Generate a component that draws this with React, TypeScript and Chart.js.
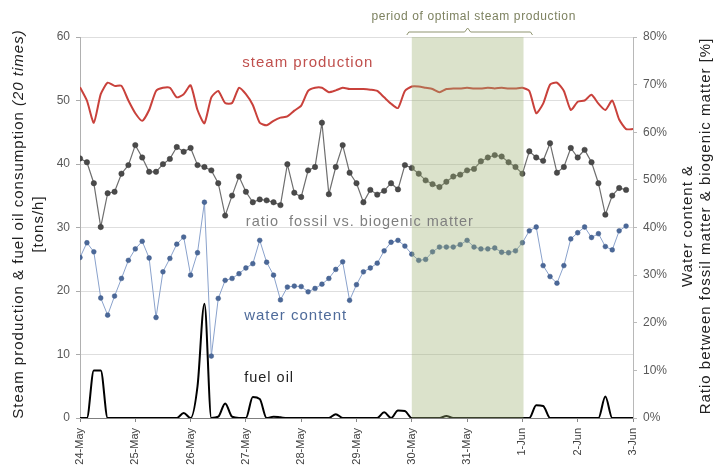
import React, { useEffect, useRef } from "react";
import { Chart, registerables } from "chart.js";
Chart.register(...registerables);

// x axis: days since 24-May, one sample every 3 hours
const dayLabels = ["24-May", "25-May", "26-May", "27-May", "28-May", "29-May", "30-May", "31-May", "1-Jun", "2-Jun", "3-Jun"];
const sampleStepHours = 3;

// left axis [tons/h]
const steamProduction = [
  52.1, 50, 46.5, 51, 52.8, 52.3, 52.3, 50, 48, 46.8,
  48.5, 51.5, 52, 52, 50.5, 51, 52.4, 48.5, 46.4, 50.5,
  51.5, 49.6, 49.6, 52, 51, 49.3, 46.5, 46.1, 46.8, 47.3,
  47.5, 48.4, 49.2, 51.5, 52, 52, 51.3, 51.6, 52, 51.8,
  51.8, 51.8, 51.7, 51.5, 50.5, 49.5, 48.8, 51.5, 52.2, 52.2,
  52, 51.8, 51.3, 51.8, 51.9, 51.9, 52, 51.9, 51.9, 52,
  51.9, 52, 51.9, 51.9, 52, 51.5, 48, 49.5, 52.5, 52.8,
  51.5, 48.5, 49.8, 50, 50.9, 49.5, 48.5, 50, 47, 45.5,
  45.5,
];
const fuelOil = [
  0, 0, 7.5, 7.5, 0, 0, 0, 0, 0, 0,
  0, 0, 0, 0, 0, 0.8, 0, 5, 18, 0,
  0.2, 2.3, 0.2, 0, 0, 3.3, 3.0, 0, 0.2, 0.1,
  0, 0, 0, 0, 0, 0, 0, 0.6, 0, 0,
  0, 0, 0, 0, 0.9, 0, 1.2, 1.1, 0, 0,
  0, 0, 0, 0.3, 0, 0, 0, 0, 0, 0,
  0, 0, 0, 0, 0, 0, 2.0, 1.9, 0, 0,
  0, 0, 0, 0, 0, 0, 3.4, 0, 0, 0,
  0,
];
// right axis [%]
const ratioFossilBiogenic = [
  54.5, 53.7, 49.3, 40.1, 47.2, 47.5, 51.3, 53.1, 57.3, 54.7,
  51.7, 51.7, 53.3, 54.4, 56.9, 55.9, 56.7, 53.1, 52.7, 52,
  49.3, 42.5, 46.7, 50.7, 47.5, 45.3, 45.9, 45.7, 45.3, 44.7,
  53.3, 47.3, 46.4, 52, 52.7, 62, 47, 52.7, 57.3, 51.5,
  49.3, 45.3, 47.9, 46.9, 47.7, 49.3, 48, 53.1, 52.5, 51.3,
  49.9, 49.1, 48.5, 49.6, 50.7, 51.1, 52, 52.3, 53.9, 54.7,
  55.2, 54.9, 53.7, 52.7, 51.3, 56, 54.7, 54, 57.7, 51.5,
  52.7, 56.7, 54.7, 56.3, 53.7, 49.3, 42.7, 46.7, 48.3, 47.9,
  null,
];
const waterContent = [
  33.7, 36.8, 34.9, 25.2, 21.6, 25.6, 29.3, 33.1, 35.5, 37.1,
  33.6, 21.1, 30.7, 33.5, 36.5, 38.0, 30.0, 34.7, 45.3, 13.0,
  25.1, 28.9, 29.3, 30.3, 31.5, 32.4, 37.3, 32.7, 30.0, 24.8,
  27.5, 27.7, 27.6, 26.5, 27.2, 28.1, 29.3, 31.2, 32.8, 24.7,
  28.0, 30.7, 31.5, 32.5, 35.1, 36.9, 37.3, 36.1, 34.4, 33.1,
  33.3, 34.9, 35.9, 35.9, 35.9, 36.4, 37.3, 35.9, 35.5, 35.5,
  35.7, 34.8, 34.7, 35.1, 36.8, 39.3, 40.1, 32.0, 29.7, 28.3,
  32.0, 37.6, 38.9, 40.1, 37.9, 38.7, 36.0, 35.3, 39.3, 40.3,
  null,
];
const optimalPeriod = [6, 8.02];

const FONT = "'Liberation Sans', Arial, sans-serif";

function toPoints(values: (number | null)[]) {
  return values.map((v, i) => ({ x: (i * sampleStepHours) / 24, y: v }));
}

const annotationPlugin = {
  id: "annot",
  afterDatasetsDraw(chart: any) {
    const { ctx, chartArea, scales } = chart;
    const xs = scales.x;
    const yl = scales.y;
    ctx.save();
    // shaded band (drawn over the series, semi-transparent)
    const x0 = xs.getPixelForValue(optimalPeriod[0]);
    const x1 = xs.getPixelForValue(optimalPeriod[1]);
    ctx.fillStyle = "rgba(158,176,115,0.37)";
    ctx.fillRect(x0, chartArea.top, x1 - x0, chartArea.bottom - chartArea.top);

    // bracket above band
    ctx.strokeStyle = "#8f9470";
    ctx.lineWidth = 1;
    const by = chartArea.top - 5;
    const mid = (x0 + x1) / 2;
    ctx.beginPath();
    ctx.moveTo(x0 - 5, by + 3);
    ctx.lineTo(x0 - 3, by);
    ctx.lineTo(mid - 3, by);
    ctx.lineTo(mid, by - 4);
    ctx.lineTo(mid + 3, by);
    ctx.lineTo(x1 + 7, by);
    ctx.lineTo(x1 + 9, by + 3);
    ctx.stroke();

    ctx.textAlign = "center";
    ctx.textBaseline = "middle";
    ctx.fillStyle = "#7d8260";
    ctx.font = `12px ${FONT}`;
    (ctx as any).letterSpacing = "0.6px";
    ctx.fillText("period of optimal steam production", mid + 6, 17);

    const label = (text: string, xv: number, yv: number, color: string, size: number) => {
      ctx.fillStyle = color;
      ctx.font = `${size}px ${FONT}`;
      ctx.fillText(text, xs.getPixelForValue(xv), yl.getPixelForValue(yv));
    };
    (ctx as any).letterSpacing = "1px";
    label("steam production", 4.12, 55.9, "#c0504d", 15);
    label("ratio  fossil vs. biogenic matter", 5.06, 30.9, "#7f7f7f", 14.5);
    label("water content", 3.9, 16.1, "#4f6b9a", 15);
    label("fuel oil", 3.42, 6.3, "#222222", 14.5);
    (ctx as any).letterSpacing = "0px";
    ctx.restore();
  },
  afterDraw(chart: any) {
    const { ctx } = chart;
    ctx.save();
    ctx.fillStyle = "#222";
    ctx.textBaseline = "middle";
    ctx.textAlign = "center";
    (ctx as any).letterSpacing = "1px";
    // left title
    ctx.translate(19, 224);
    ctx.rotate(-Math.PI / 2);
    const part1 = "Steam production & fuel oil consumption ";
    const part2 = "(20 times)";
    ctx.font = `15px ${FONT}`;
    const w1 = ctx.measureText(part1).width;
    ctx.font = `italic 15px ${FONT}`;
    const w2 = ctx.measureText(part2).width;
    const start = -(w1 + w2) / 2;
    ctx.textAlign = "left";
    ctx.font = `15px ${FONT}`;
    ctx.fillText(part1, start, 0);
    ctx.font = `italic 15px ${FONT}`;
    ctx.fillText(part2, start + w1, 0);
    ctx.textAlign = "center";
    ctx.font = `15px ${FONT}`;
    ctx.fillText("[tons/h]", 0, 20);
    ctx.restore();

    // right title
    ctx.save();
    ctx.fillStyle = "#222";
    ctx.textBaseline = "middle";
    ctx.textAlign = "center";
    (ctx as any).letterSpacing = "1px";
    ctx.font = `15px ${FONT}`;
    ctx.translate(688, 226);
    ctx.rotate(-Math.PI / 2);
    ctx.fillText("Water content &", 0, 0);
    ctx.fillText("Ratio between fossil matter & biogenic matter [%]", 0, 18);
    ctx.restore();
  },
};

export default function App() {
  const ref = useRef<HTMLCanvasElement>(null);
  useEffect(() => {
    if (!ref.current) return;
    const chart = new Chart(ref.current, {
      type: "line",
      data: {
        datasets: [
          {
            label: "fuel oil",
            data: toPoints(fuelOil),
            yAxisID: "y",
            borderColor: "#000000",
            borderWidth: 2,
            pointRadius: 0,
            cubicInterpolationMode: "monotone",
          },
          {
            label: "water content",
            data: toPoints(waterContent),
            yAxisID: "y1",
            borderColor: "#8aa2cc",
            borderWidth: 1,
            pointRadius: 2.4,
            pointBorderWidth: 0.5,
            pointBackgroundColor: "#4b6898",
            pointBorderColor: "#3f5a88",
            tension: 0,
          },
          {
            label: "ratio fossil vs. biogenic matter",
            data: toPoints(ratioFossilBiogenic),
            yAxisID: "y1",
            borderColor: "#6e6e6e",
            borderWidth: 1.2,
            pointRadius: 2.7,
            pointBorderWidth: 0.5,
            pointBackgroundColor: "#4a4a4a",
            pointBorderColor: "#3a3a3a",
            tension: 0,
          },
          {
            label: "steam production",
            data: toPoints(steamProduction),
            yAxisID: "y",
            borderColor: "#c9413b",
            borderWidth: 2,
            pointRadius: 0,
            tension: 0.2,
          },
        ],
      },
      options: {
        responsive: false,
        animation: false,
        layout: { padding: { top: 37, left: 0, right: 0, bottom: 0 } },
        plugins: { legend: { display: false }, tooltip: { enabled: false } },
        scales: {
          x: {
            type: "linear",
            min: 0,
            max: 10,
            afterFit: (s: any) => { s.height = 54; },
            afterBuildTicks: (s: any) => {
              s.ticks = dayLabels.map((_, i) => ({ value: i }));
            },
            ticks: {
              callback: (v: any) => dayLabels[Math.round(Number(v))],
              minRotation: 90,
              maxRotation: 90,
              autoSkip: false,
              color: "#404040",
              font: { size: 11, family: FONT },
              padding: 6,
            },
            grid: { display: true, drawOnChartArea: false, tickLength: 4, color: "#888" },
            border: { color: "#7f7f7f" },
          },
          y: {
            position: "left",
            min: 0,
            max: 60,
            afterFit: (s: any) => { s.width = 80; },
            ticks: { stepSize: 10, color: "#595959", font: { size: 12, family: FONT }, padding: 6 },
            grid: { color: "#dedede", tickLength: 4, tickColor: "#aaa" },
            border: { color: "#b0b0b0" },
          },
          y1: {
            position: "right",
            min: 0,
            max: 80,
            afterFit: (s: any) => { s.width = 82; },
            ticks: {
              stepSize: 10,
              color: "#595959",
              font: { size: 12, family: FONT },
              padding: 6,
              callback: (v: any) => `${v}%`,
            },
            grid: { drawOnChartArea: false, tickLength: 4, color: "#bbb" },
            border: { color: "#b8b8b8", dash: [3, 3] },
          },
        },
      },
      plugins: [annotationPlugin],
    } as any);
    return () => chart.destroy();
  }, []);
  return (
    <div style={{ position: "fixed", left: 0, top: 0, width: 715, height: 472, background: "#fff" }}>
      <canvas ref={ref} width={715} height={472} style={{ width: 715, height: 472 }} />
    </div>
  );
}
